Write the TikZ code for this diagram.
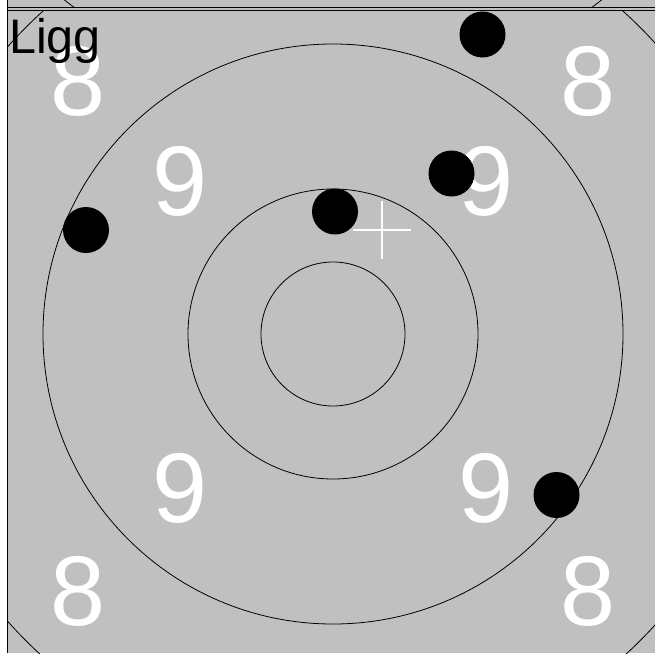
\documentclass[tikz,border=0pt]{standalone}
\usepackage{fontspec}
\setmainfont{Liberation Sans}
\definecolor{targetgray}{HTML}{C0C0C0}
\tikzset{
  ring/.style={draw=black,line width=0.8pt},
  digit/.style={text=white,inner sep=0pt,font=\fontsize{99}{99}\selectfont},
  shot/.style={fill=black},
}
\begin{document}
\begin{tikzpicture}[x=1pt,y=-1pt,line join=round,line cap=round]
  \useasboundingbox (0,0) rectangle (655,653);
  % Background and frame
  \fill[white] (0,0) rectangle (655,653);
  \fill[targetgray] (8,0) rectangle (655,653);
  \path
    (333,334) coordinate (O)
    (333,-341) coordinate (P)
    (382,230) coordinate (C);
  % Bottom of the target above
  \begin{scope}
    \clip (8,0) rectangle (655,7.5);
    \draw[ring] (P) circle (434);
  \end{scope}
  \draw[line width=1.3pt,line cap=butt] (8,7.5) -- (655,7.5);
  \draw[line width=1.3pt,line cap=butt] (8,10.5) -- (655,10.5);
  \draw[line width=1.3pt,line cap=butt] (7.5,0) -- (7.5,653);
  % Rings
  \begin{scope}
    \clip (8,11) rectangle (655,653);
    \foreach \r in {72,145,290,434}{
      \draw[ring] (O) circle (\r);
    }
  \end{scope}
  % Ring numbers
  \foreach \x/\y/\n in {180/181/9, 486/181/9, 180/488/9, 486/488/9,
                        78/81/8, 588/81/8, 78/591/8, 588/591/8}{
    \node[digit] at (\x,\y) {\n};
  }
  \node[anchor=base west,inner sep=0pt,font=\fontsize{48.5}{48.5}\selectfont] (title) at (9,53) {Ligg};
  % Shots
  \path
    (482.5,34.5) coordinate (S1)
    (451.5,173.5) coordinate (S2)
    (335,211.5) coordinate (S3)
    (86,230) coordinate (S4)
    (556.5,495) coordinate (S5);
  \foreach \t in {S1,S2,S3,S4,S5}{
    \fill[shot] (\t) circle (23);
  }
  % Aim point
  \draw[white,line width=2pt,line cap=butt] (C) +(-29,0) -- +(29,0) (C) +(0,-29) -- +(0,29);
\end{tikzpicture}
\end{document}
